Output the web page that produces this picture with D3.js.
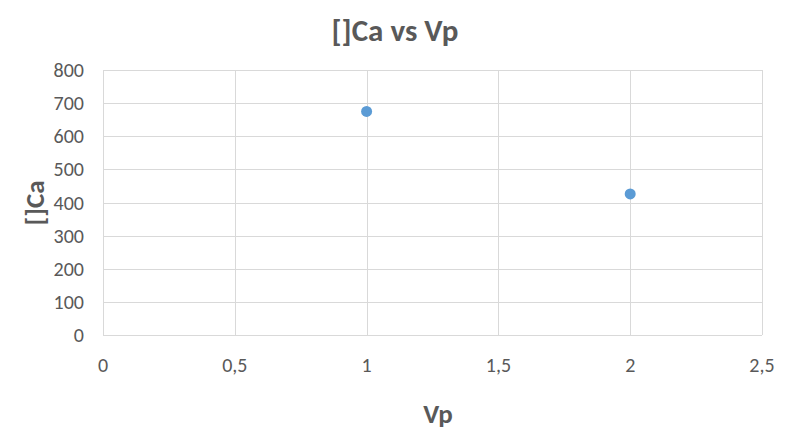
<!DOCTYPE html>
<html>
<head>
<meta charset="utf-8">
<script src="https://cdn.jsdelivr.net/npm/d3@7"></script>
<style>
  html, body { margin: 0; padding: 0; background: #fff; }
  svg { display: block; font-family: "Carlito", "Liberation Sans", "Open Sans", sans-serif; }
</style>
</head>
<body>
<svg id="chart" width="791" height="434"></svg>
<script>
const vpValues = [1, 2];
const caValues = [675, 426];
const xTicks = [0, 0.5, 1, 1.5, 2, 2.5];
const yTicks = [0, 100, 200, 300, 400, 500, 600, 700, 800];
const titleText = "[]Ca vs Vp";
const xTitle = "Vp";
const yTitle = "[]Ca";

const svg = d3.select("#chart");
const margin = { left: 103, right: 29, top: 70, bottom: 99 };
const W = 791, H = 434;

const x = d3.scaleLinear().domain([0, 2.5]).range([margin.left, W - margin.right]);
const y = d3.scaleLinear().domain([0, 800]).range([H - margin.bottom, margin.top]);

const fmt = d => String(d).replace(".", ",");

// grid
svg.append("g").selectAll("line.v").data(xTicks).join("line")
  .attr("x1", d => Math.round(x(d)) + 0.5).attr("x2", d => Math.round(x(d)) + 0.5)
  .attr("y1", y(800)).attr("y2", y(0))
  .attr("stroke", "#d9d9d9").attr("stroke-width", 1);
svg.append("g").selectAll("line.h").data(yTicks).join("line")
  .attr("x1", x(0)).attr("x2", x(2.5))
  .attr("y1", d => Math.round(y(d)) + 0.5).attr("y2", d => Math.round(y(d)) + 0.5)
  .attr("stroke", "#d9d9d9").attr("stroke-width", 1);

// tick labels
svg.append("g").selectAll("text").data(yTicks).join("text")
  .attr("x", x(0) - 19).attr("y", d => y(d)).attr("dy", "0.35em")
  .attr("text-anchor", "end").attr("font-size", 20).attr("fill", "#595959")
  .text(d => d);
svg.append("g").selectAll("text").data(xTicks).join("text")
  .attr("x", d => x(d)).attr("y", y(0) + 37)
  .attr("text-anchor", "middle").attr("font-size", 20).attr("fill", "#595959")
  .text(fmt);

// points
svg.append("g").selectAll("circle").data(vpValues.map((v, i) => [v, caValues[i]])).join("circle")
  .attr("cx", d => x(d[0])).attr("cy", d => y(d[1])).attr("r", 5.5)
  .attr("fill", "#5b9bd5");

// titles
svg.append("text").attr("x", 395).attr("y", 41).attr("text-anchor", "middle")
  .attr("font-size", 31).attr("font-weight", "bold").attr("fill", "#595959").text(titleText);
svg.append("text").attr("x", 438).attr("y", 423).attr("text-anchor", "middle")
  .attr("font-size", 27).attr("font-weight", "bold").attr("fill", "#595959").text(xTitle);
svg.append("text").attr("transform", "translate(44,203) rotate(-90)").attr("text-anchor", "middle")
  .attr("font-size", 27).attr("font-weight", "bold").attr("fill", "#595959").text(yTitle);
</script>
</body>
</html>
